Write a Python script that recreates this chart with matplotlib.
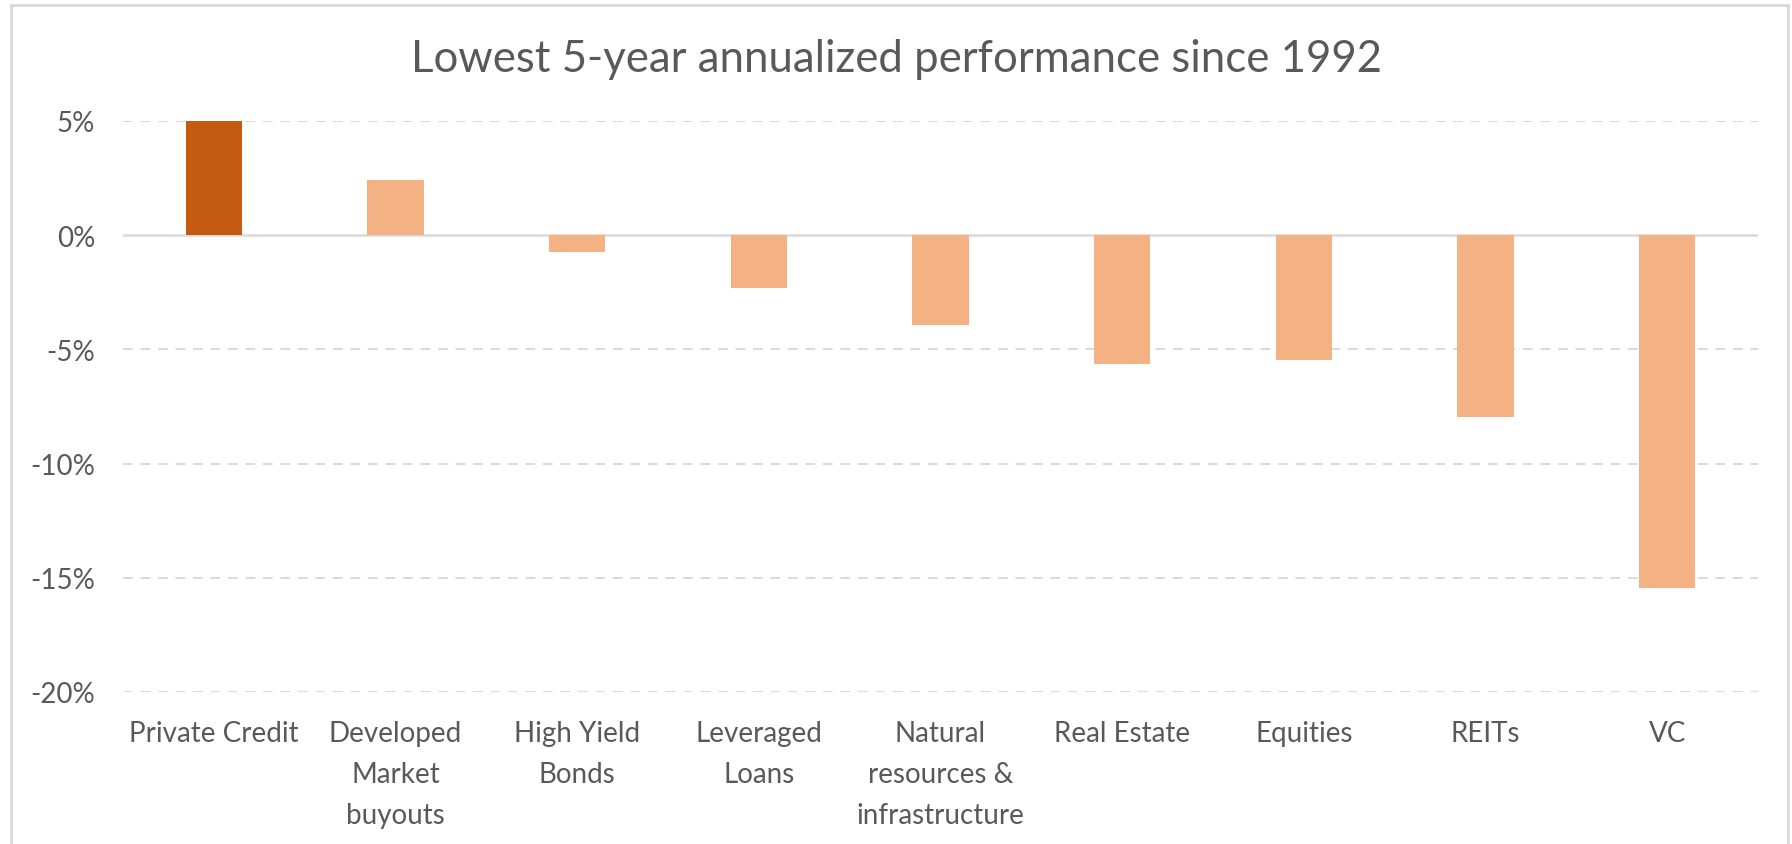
import matplotlib
matplotlib.use("Agg")
import matplotlib.pyplot as plt
from matplotlib.patches import Rectangle
from matplotlib.ticker import FuncFormatter

categories = ["Private Credit", "Developed\nMarket\nbuyouts", "High Yield\nBonds",
              "Leveraged\nLoans", "Natural\nresources &\ninfrastructure", "Real Estate",
              "Equities", "REITs", "VC"]
values = [5.0, 2.4, -0.75, -2.3, -3.95, -5.65, -5.45, -7.95, -15.45]
highlight = "Private Credit"
yticks = [5, 0, -5, -10, -15, -20]

DARK = "#C55A11"
LIGHT = "#F4B183"
TEXT = "#595959"
GRID = "#D9D9D9"

plt.rcParams["font.family"] = ["Lato", "DejaVu Sans"]

W, H = 1792, 845
fig = plt.figure(figsize=(W / 100, H / 100), dpi=100)
ax = fig.add_axes([123 / W, 1 - 693 / H, (1758 - 123) / W, (693 - 122) / H])

colors = [DARK if c == highlight else LIGHT for c in categories]
x = list(range(len(categories)))
ax.bar(x, values, width=0.31, color=colors, zorder=3)

ax.set_xlim(-0.5, len(categories) - 0.5)
ax.set_ylim(-20, 5)
ax.set_yticks(yticks)
ax.yaxis.set_major_formatter(FuncFormatter(lambda v, _: f"{v:.0f}%"))
ax.set_xticks(x)
ax.set_xticklabels(categories, linespacing=1.73, va="top")

for y in yticks:
    if y == 0:
        ax.axhline(0, color=GRID, lw=1.8, zorder=2)
    else:
        ax.axhline(y, color=GRID, lw=1.4, ls=(0, (5, 4)), zorder=1)

for s in ax.spines.values():
    s.set_visible(False)
ax.tick_params(axis="both", length=0, colors=TEXT, labelsize=20)
ax.tick_params(axis="x", pad=20)
ax.tick_params(axis="y", pad=20)

fig.text(0.5, 1 - 59 / H, "Lowest 5-year annualized performance since 1992",
         ha="center", va="center", fontsize=31.5, color=TEXT)

fig.patches.append(Rectangle((11 / W, -0.05), (1788 - 11) / W, 1.05 - 6 / H,
                             transform=fig.transFigure, fill=False,
                             edgecolor=GRID, lw=2))

fig.savefig("out.png", dpi=100)
